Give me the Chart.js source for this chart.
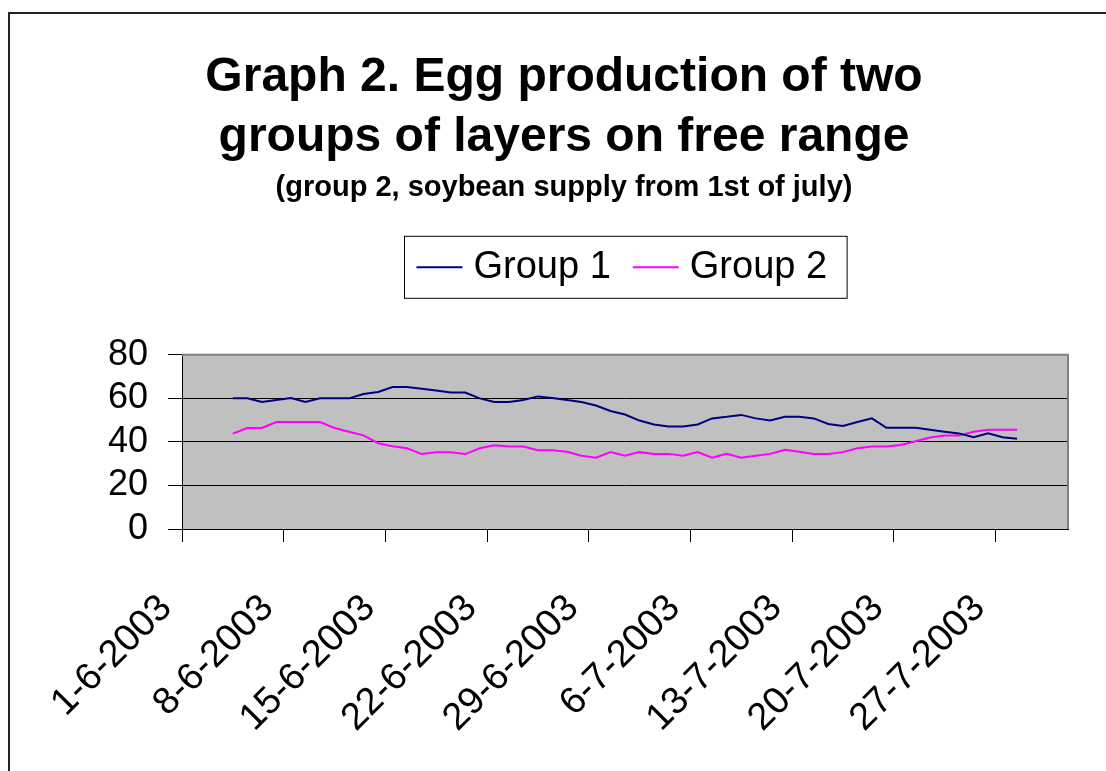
<!DOCTYPE html>
<html>
<head>
<meta charset="utf-8">
<script src="https://cdn.jsdelivr.net/npm/chart.js@4"></script>
<style>
  body { margin: 0; background: #fff; }
  canvas { display: block; }
</style>
</head>
<body>
<canvas id="chart" width="1106" height="771"></canvas>
<script>
const FONT = '"Liberation Sans", Arial, Helvetica, sans-serif';

// one point per day, 4 June to 28 July 2003
const dates = [
  '4-6-2003', '5-6-2003', '6-6-2003', '7-6-2003', '8-6-2003', '9-6-2003', '10-6-2003',
  '11-6-2003', '12-6-2003', '13-6-2003', '14-6-2003', '15-6-2003', '16-6-2003', '17-6-2003',
  '18-6-2003', '19-6-2003', '20-6-2003', '21-6-2003', '22-6-2003', '23-6-2003', '24-6-2003',
  '25-6-2003', '26-6-2003', '27-6-2003', '28-6-2003', '29-6-2003', '30-6-2003',
  '1-7-2003', '2-7-2003', '3-7-2003', '4-7-2003', '5-7-2003', '6-7-2003', '7-7-2003',
  '8-7-2003', '9-7-2003', '10-7-2003', '11-7-2003', '12-7-2003', '13-7-2003', '14-7-2003',
  '15-7-2003', '16-7-2003', '17-7-2003', '18-7-2003', '19-7-2003', '20-7-2003', '21-7-2003',
  '22-7-2003', '23-7-2003', '24-7-2003', '25-7-2003', '26-7-2003', '27-7-2003', '28-7-2003'
];

const group1 = [
  60, 60, 58.3, 59.2, 60.1, 58.3, 60, 60, 60, 62, 62.9, 65.2, 65.2, 64.4,
  63.6, 62.7, 62.7, 60, 58.3, 58.3, 59.2, 60.9, 60.2, 59.2, 58.3, 56.7, 54.2,
  52.6, 49.8, 48, 47.1, 47.1, 48, 50.8, 51.5, 52.4, 50.8, 49.8, 51.5, 51.5,
  50.8, 48.2, 47.3, 49.1, 50.8, 46.5, 46.5, 46.5, 45.6, 44.7, 43.9, 42.1, 43.9, 42.1, 41.4
];

const group2 = [
  43.8, 46.4, 46.4, 49.1, 49.1, 49.1, 49.1, 46.4, 44.7, 43, 39.4, 38, 37.1, 34.4,
  35.3, 35.3, 34.4, 37.1, 38.5, 37.9, 37.9, 36.2, 36.2, 35.5, 33.6, 32.7, 35.3,
  33.6, 35.3, 34.5, 34.5, 33.6, 35.3, 32.7, 34.5, 32.7, 33.6, 34.5, 36.4, 35.5,
  34.5, 34.5, 35.3, 37.1, 37.9, 37.9, 38.6, 40.3, 42, 42.9, 42.9, 44.7, 45.6, 45.6, 45.6
];

const tickLabels = ['1-6-2003', '8-6-2003', '15-6-2003', '22-6-2003', '29-6-2003',
  '6-7-2003', '13-7-2003', '20-7-2003', '27-7-2003'];

const seriesNames = ['Group 1', 'Group 2'];
const seriesColors = ['#000080', '#ff00ff'];

const axisStart = Date.UTC(2003, 5, 1);   // 1 June 2003
const axisDays = 61;                      // up to 1 August

// day number since 1 June, centred in its day slot
const dayPos = s => {
  const [d, m, y] = s.split('-').map(Number);
  return (Date.UTC(y, m - 1, d) - axisStart) / 864e5 + 0.5;
};

const toPoints = vals => vals.map((v, i) => ({ x: dayPos(dates[i]), y: v }));

const plotBox = {
  id: 'plotBox',
  beforeDraw(chart) {
    const { ctx, chartArea: a } = chart;
    ctx.save();
    ctx.fillStyle = '#c0c0c0';
    ctx.fillRect(a.left, a.top, a.right - a.left, a.bottom - a.top);
    ctx.restore();
  },
  beforeDatasetsDraw(chart) {
    const { ctx, chartArea: a } = chart;
    ctx.save();
    ctx.strokeStyle = '#808080';
    ctx.lineWidth = 2;
    ctx.beginPath();
    ctx.moveTo(a.left, a.top);
    ctx.lineTo(a.right, a.top);
    ctx.lineTo(a.right, a.bottom);
    ctx.stroke();
    ctx.restore();
  },
  afterDraw(chart) {
    const { ctx, chartArea: a } = chart;
    ctx.save();
    // outer frame
    ctx.strokeStyle = '#222';
    ctx.lineWidth = 2;
    ctx.beginPath();
    ctx.moveTo(9, chart.height);
    ctx.lineTo(9, 13);
    ctx.lineTo(chart.width, 13);
    ctx.stroke();

    // legend box
    ctx.font = '38px ' + FONT;
    ctx.textBaseline = 'middle';
    const lineLen = 46, padL = 12, padR = 20, gapText = 11, gapItem = 22;
    const widths = seriesNames.map(n => ctx.measureText(n).width);
    let boxW = padL + padR + gapItem * (seriesNames.length - 1);
    widths.forEach(w => { boxW += lineLen + gapText + w; });
    const boxH = 62;
    const cx = (a.left + a.right) / 2;
    const bx = Math.round(cx - boxW / 2) + 0.5;
    const by = a.top - 119 + 0.5;
    ctx.strokeStyle = '#000';
    ctx.lineWidth = 1;
    ctx.strokeRect(bx, by, boxW, boxH);
    let x = bx + padL;
    const ly = by + boxH / 2;
    seriesNames.forEach((n, i) => {
      ctx.strokeStyle = seriesColors[i];
      ctx.lineWidth = 2;
      ctx.beginPath();
      ctx.moveTo(x, ly);
      ctx.lineTo(x + lineLen, ly);
      ctx.stroke();
      x += lineLen + gapText;
      ctx.fillStyle = '#000';
      ctx.fillText(n, x, ly);
      x += widths[i] + gapItem;
    });
    ctx.restore();
  }
};

new Chart(document.getElementById('chart'), {
  type: 'line',
  data: {
    datasets: seriesNames.map((name, i) => ({
      label: name,
      data: toPoints(i === 0 ? group1 : group2),
      borderColor: seriesColors[i],
      backgroundColor: seriesColors[i],
      borderWidth: 2,
      pointRadius: 0,
      tension: 0
    }))
  },
  options: {
    responsive: false,
    animation: false,
    layout: { padding: { left: 60, right: 38, top: 0, bottom: 0 } },
    plugins: {
      legend: { display: false },
      tooltip: { enabled: false },
      title: {
        display: true,
        text: ['Graph 2. Egg production of two', 'groups of layers on free range'],
        color: '#000',
        font: { family: FONT, size: 48, weight: 'bold', lineHeight: 1.25 },
        padding: { top: 48, bottom: 0 }
      },
      subtitle: {
        display: true,
        text: '(group 2, soybean supply from 1st of july)',
        color: '#000',
        font: { family: FONT, size: 29, weight: 'bold', lineHeight: 1.2 },
        padding: { top: 3, bottom: 149 }
      }
    },
    scales: {
      x: {
        type: 'linear',
        bounds: 'data',
        min: 0,
        max: axisDays,
        afterFit: s => { s.height = 242; },
        ticks: {
          stepSize: 7,
          includeBounds: false,
          autoSkip: false,
          minRotation: 45,
          maxRotation: 45,
          padding: 44,
          labelOffset: -16,
          color: '#000',
          font: { family: FONT, size: 38 },
          callback: (v, i) => tickLabels[i]
        },
        grid: { drawOnChartArea: false, tickLength: 13, tickColor: '#000' },
        border: { color: '#000', width: 1 }
      },
      y: {
        min: 0,
        max: 80,
        afterFit: s => { s.width = 122; },
        ticks: {
          stepSize: 20,
          autoSkip: false,
          padding: 20,
          color: '#000',
          font: { family: FONT, size: 36 }
        },
        grid: {
          color: c => (c.tick && c.tick.value === 80 ? '#808080' : '#000'),
          tickLength: 14,
          tickColor: '#000'
        },
        border: { color: '#000', width: 1 }
      }
    }
  },
  plugins: [plotBox]
});
</script>
</body>
</html>
